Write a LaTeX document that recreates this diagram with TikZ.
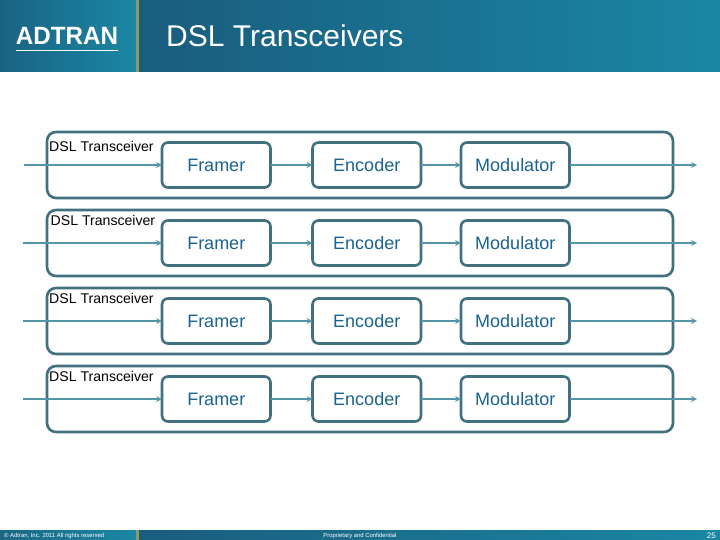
\documentclass[tikz,border=0pt]{standalone}
\usepackage{fontspec}
\setmainfont{Liberation Sans}
\usepackage{xcolor}
\usetikzlibrary{arrows, positioning}
\definecolor{bardark}{HTML}{1A5C7D}
\definecolor{barlight}{HTML}{1A87A4}
\definecolor{bargold}{HTML}{8E9B5E}
\definecolor{boxline}{HTML}{41707F}
\definecolor{wireline}{HTML}{5596A6}
\definecolor{blocktext}{HTML}{1A6390}

\begin{document}
\begin{tikzpicture}[
    x=1pt, y=-1pt,
    node distance=42pt,
    xcvr/.style={rectangle, draw=boxline, line width=2.6pt, outer sep=0pt, minimum width=626pt, minimum height=66pt, rounded corners=9pt},
    block/.style={rectangle, draw=boxline, line width=2.6pt, outer sep=0pt, fill=white, minimum width=108.5pt, minimum height=45pt, rounded corners=6pt, inner sep=0pt, text height=13pt, text depth=0pt, text=blocktext, font=\fontsize{18}{20}\selectfont},
    tag/.style={inner sep=0pt, anchor=west, text=black, font=\fontsize{14.1}{16}\selectfont},
    footer/.style={inner sep=0pt, text=white, font=\fontsize{5.9}{7}\selectfont},
    arrow/.style={draw=wireline, line width=1.6pt, ->, >=stealth}
  ]
  \useasboundingbox (0,0) rectangle (720,540);

  % header and footer bars
  \shade [left color=bardark!85!barlight, right color=barlight] (0,0) rectangle (136,72);
  \shade [left color=bardark, middle color=bardark!85!barlight, right color=barlight] (136,0) rectangle (720,72);
  \shade [left color=bardark!75!barlight, right color=barlight] (0,530) rectangle (136,540);
  \shade [left color=bardark, middle color=bardark!85!barlight, right color=barlight] (136,530) rectangle (720,540);
  \fill [bargold] (136,0) rectangle (138.5,72);
  \fill [bargold] (136,530) rectangle (138.5,540);

  \node (logo) [inner sep=0pt, text=white] at (67,36) {\scalebox{1.21}[1.25]{\fontsize{20}{22}\selectfont\bfseries ADTRAN}};
  \draw [white, line width=0.8pt] (16,50) -- (118,50);
  \node (title) [inner sep=0pt, anchor=west, text=white, font=\fontsize{30}{34}\selectfont] at (166,36) {DSL Transceivers};
  \node (copy) [footer, anchor=west] at (4,535.5) {© Adtran, Inc. 2011 All rights reserved};
  \node (conf) [footer, anchor=center] at (360,535.5) {Proprietary and Confidential};
  \node (page) [footer, anchor=east, font=\fontsize{8}{9}\selectfont] at (716,535.5) {25};

  % transceiver outlines
  \node (x1) [xcvr] at (360,165) {};
  \node (x2) [xcvr] at (360,243) {};
  \node (x3) [xcvr] at (360,321) {};
  \node (x4) [xcvr] at (360,399) {};

  % blocks
  \node (f1) [block] at (216.25,165) {Framer};
  \node (e1) [block, right=of f1] {Encoder};
  \node (m1) [block, right=40pt of e1] {Modulator};
  \node (f2) [block, below=33pt of f1] {Framer};
  \node (e2) [block, right=of f2] {Encoder};
  \node (m2) [block, right=40pt of e2] {Modulator};
  \node (f3) [block, below=33pt of f2] {Framer};
  \node (e3) [block, right=of f3] {Encoder};
  \node (m3) [block, right=40pt of e3] {Modulator};
  \node (f4) [block, below=33pt of f3] {Framer};
  \node (e4) [block, right=of f4] {Encoder};
  \node (m4) [block, right=40pt of e4] {Modulator};

  \node (t1) [tag] at (49,146.5) {DSL Transceiver};
  \node (t2) [tag] at (50.5,220.5) {DSL Transceiver};
  \node (t3) [tag] at (49,298.5) {DSL Transceiver};
  \node (t4) [tag] at (49,376.5) {DSL Transceiver};

  \coordinate (in1) at (24,165);
  \coordinate (in2) at (23,243);
  \coordinate (in3) at (23,321);
  \coordinate (in4) at (23,399);
  \coordinate (out1) at (697,165);
  \coordinate (out2) at (697,243);
  \coordinate (out3) at (697,321);
  \coordinate (out4) at (697,399);

  \draw [arrow] (in1) -- (f1);
  \draw [arrow] (f1) -- (e1);
  \draw [arrow] (e1) -- (m1);
  \draw [arrow] (m1) -- (out1);
  \draw [arrow] (in2) -- (f2);
  \draw [arrow] (f2) -- (e2);
  \draw [arrow] (e2) -- (m2);
  \draw [arrow] (m2) -- (out2);
  \draw [arrow] (in3) -- (f3);
  \draw [arrow] (f3) -- (e3);
  \draw [arrow] (e3) -- (m3);
  \draw [arrow] (m3) -- (out3);
  \draw [arrow] (in4) -- (f4);
  \draw [arrow] (f4) -- (e4);
  \draw [arrow] (e4) -- (m4);
  \draw [arrow] (m4) -- (out4);
\end{tikzpicture}
\end{document}
